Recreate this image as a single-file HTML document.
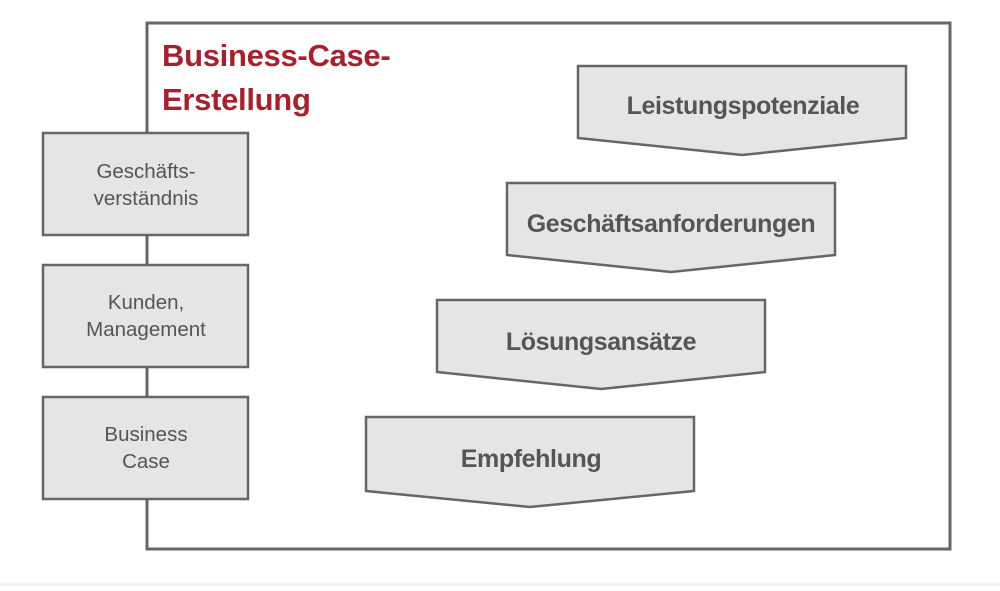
<!DOCTYPE html>
<html><head><meta charset="utf-8"><style>
body{margin:0;background:#fff;}
svg text{font-family:"Liberation Sans",sans-serif;}
</style></head><body>
<svg width="1000" height="586" viewBox="0 0 1000 586" xmlns="http://www.w3.org/2000/svg">
<rect x="0" y="582" width="1000" height="4" fill="#f3f3f3"/>
<rect x="147" y="23" width="803" height="526" fill="none" stroke="#666" stroke-width="3"/>
<text x="162" y="66" font-size="31" font-weight="bold" fill="#a3222e" letter-spacing="-0.3">Business-Case-</text>
<text x="162" y="110" font-size="31" font-weight="bold" fill="#a3222e" letter-spacing="-0.3">Erstellung</text>
<g fill="#e5e5e5" stroke="#666" stroke-width="2.5">
<rect x="43" y="133" width="205" height="102"/>
<rect x="43" y="265" width="205" height="102"/>
<rect x="43" y="397" width="205" height="102"/>
<polygon points="578,66 906,66 906,138 742,155 578,138"/>
<polygon points="507,183 835,183 835,255 671,272 507,255"/>
<polygon points="437,300 765,300 765,372 601,389 437,372"/>
<polygon points="366,417 694,417 694,491 530,507 366,491"/>
</g>
<g font-size="20.5" fill="#555" text-anchor="middle">
<text x="146" y="178">Geschäfts-</text>
<text x="146" y="205">verständnis</text>
<text x="146" y="309">Kunden,</text>
<text x="146" y="336">Management</text>
<text x="146" y="441">Business</text>
<text x="146" y="468">Case</text>
</g>
<g font-size="25" font-weight="bold" fill="#555" text-anchor="middle" letter-spacing="-0.4">
<text x="743" y="114">Leistungspotenziale</text>
<text x="671" y="232">Geschäftsanforderungen</text>
<text x="601" y="350">Lösungsansätze</text>
<text x="531" y="467">Empfehlung</text>
</g>
</svg>
</body></html>
